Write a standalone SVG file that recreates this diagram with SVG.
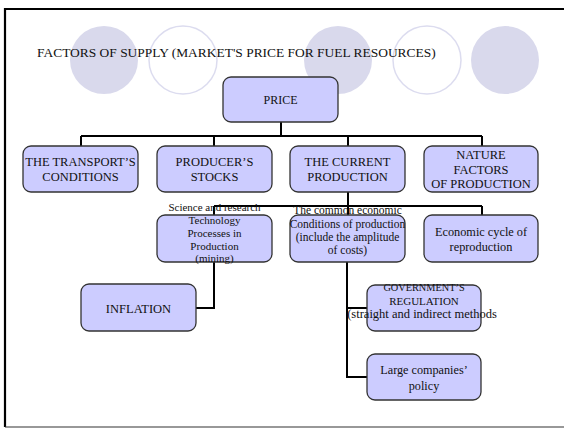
<svg xmlns="http://www.w3.org/2000/svg" width="564" height="428" viewBox="0 0 564 428">
<style>
.bg{fill:#ffffff}
.cf{fill:#D9D9EC;stroke:none}
.co{fill:none;stroke:#DCDCEF;stroke-width:1.5}
.box{fill:#CCCCFF;stroke:#333333;stroke-width:1.3}
.ln{fill:none;stroke:#000000;stroke-width:2}
text{font-family:'Liberation Serif',serif;fill:#111111;text-anchor:middle}
.t{font-size:12.5px}
.s{font-size:11px}
.m{font-size:11.5px}
</style>
<rect class="bg" x="0" y="0" width="564" height="428"/>
<g id="decor">
<circle class="cf" cx="104" cy="60" r="34"/>
<circle class="co" cx="183" cy="60" r="34"/>
<circle class="cf" cx="338" cy="60" r="34"/>
<circle class="co" cx="427" cy="60" r="34"/>
<circle class="cf" cx="505" cy="60" r="34"/>
</g>
<path d="M564,9 H5 V427" fill="none" stroke="#000" stroke-width="2.2"/>
<path d="M5,427 H564" fill="none" stroke="#333" stroke-width="1.2"/>
<g font-family="Liberation Serif, serif">
<text id="title" x="37" y="57" style="text-anchor:start;font-size:13.45px">FACTORS OF SUPPLY (MARKET'S PRICE FOR FUEL RESOURCES)</text>
<g id="connectors">
<path class="ln" d="M281,122 V136 M81,136 H482 M81,136 V146 M214,136 V146 M348,136 V146 M482,136 V146"/>
<path class="ln" d="M348,192 V215 M214,206 H482 M214,206 V215 M482,206 V215"/>
<path class="ln" d="M214,262 V308 H196"/>
<path class="ln" d="M347,262 V377 H367 M347,308 H367"/>
</g>
<g id="price">
<rect class="box" x="223" y="77" width="115" height="45" rx="8"/>
<text class="t" x="280.5" y="104" style="font-size:12px">PRICE</text>
</g>
<g id="transport">
<rect class="box" x="23" y="146" width="115" height="46" rx="8"/>
<text class="t" x="80.5" y="166">THE TRANSPORT’S</text>
<text class="t" x="80.5" y="181">CONDITIONS</text>
</g>
<g id="producer">
<rect class="box" x="157" y="146" width="115" height="46" rx="8"/>
<text class="t" x="214.5" y="166">PRODUCER’S</text>
<text class="t" x="214.5" y="181">STOCKS</text>
</g>
<g id="current">
<rect class="box" x="290" y="146" width="115" height="46" rx="8"/>
<text class="t" x="347.5" y="166">THE CURRENT</text>
<text class="t" x="347.5" y="181">PRODUCTION</text>
</g>
<g id="nature">
<rect class="box" x="424" y="146" width="114" height="46" rx="8"/>
<text class="t" x="481" y="159">NATURE</text>
<text class="t" x="481" y="174">FACTORS</text>
<text class="t" x="481" y="188">OF PRODUCTION</text>
</g>
<g id="technology">
<rect class="box" x="157" y="215" width="115" height="47" rx="8"/>
<text class="s" x="214.5" y="211">Science and research</text>
<text class="s" x="214.5" y="224">Technology</text>
<text class="s" x="214.5" y="237">Processes in</text>
<text class="s" x="214.5" y="250">Production</text>
<text class="s" x="214.5" y="262">(mining)</text>
</g>
<g id="common">
<rect class="box" x="290" y="215" width="115" height="47" rx="8"/>
<text class="m" x="347.5" y="214">The common economic</text>
<text class="m" x="347.5" y="228">Conditions of production</text>
<text class="m" x="347.5" y="241">(include the amplitude</text>
<text class="m" x="347.5" y="254">of costs)</text>
</g>
<g id="cycle">
<rect class="box" x="424" y="215" width="114" height="47" rx="8"/>
<text class="t" x="481" y="236" style="font-size:12.3px">Economic cycle of</text>
<text class="t" x="481" y="251" style="font-size:12.3px">reproduction</text>
</g>
<g id="inflation">
<rect class="box" x="81" y="284" width="115" height="47" rx="8"/>
<text class="t" x="138.5" y="313">INFLATION</text>
</g>
<g id="government">
<rect class="box" x="367" y="285" width="114" height="46" rx="8"/>
<text x="424" y="291" style="font-size:10.3px">GOVERNMENT’S</text>
<text x="424" y="305" style="font-size:11px">REGULATION</text>
<text x="422" y="318" style="font-size:12.5px">(straight and indirect methods</text>
</g>
<g id="companies">
<rect class="box" x="367" y="354" width="114" height="46" rx="8"/>
<text class="t" x="424" y="374" style="font-size:12.2px">Large companies’</text>
<text class="t" x="424" y="390" style="font-size:12.2px">policy</text>
</g>
</g>
</svg>
